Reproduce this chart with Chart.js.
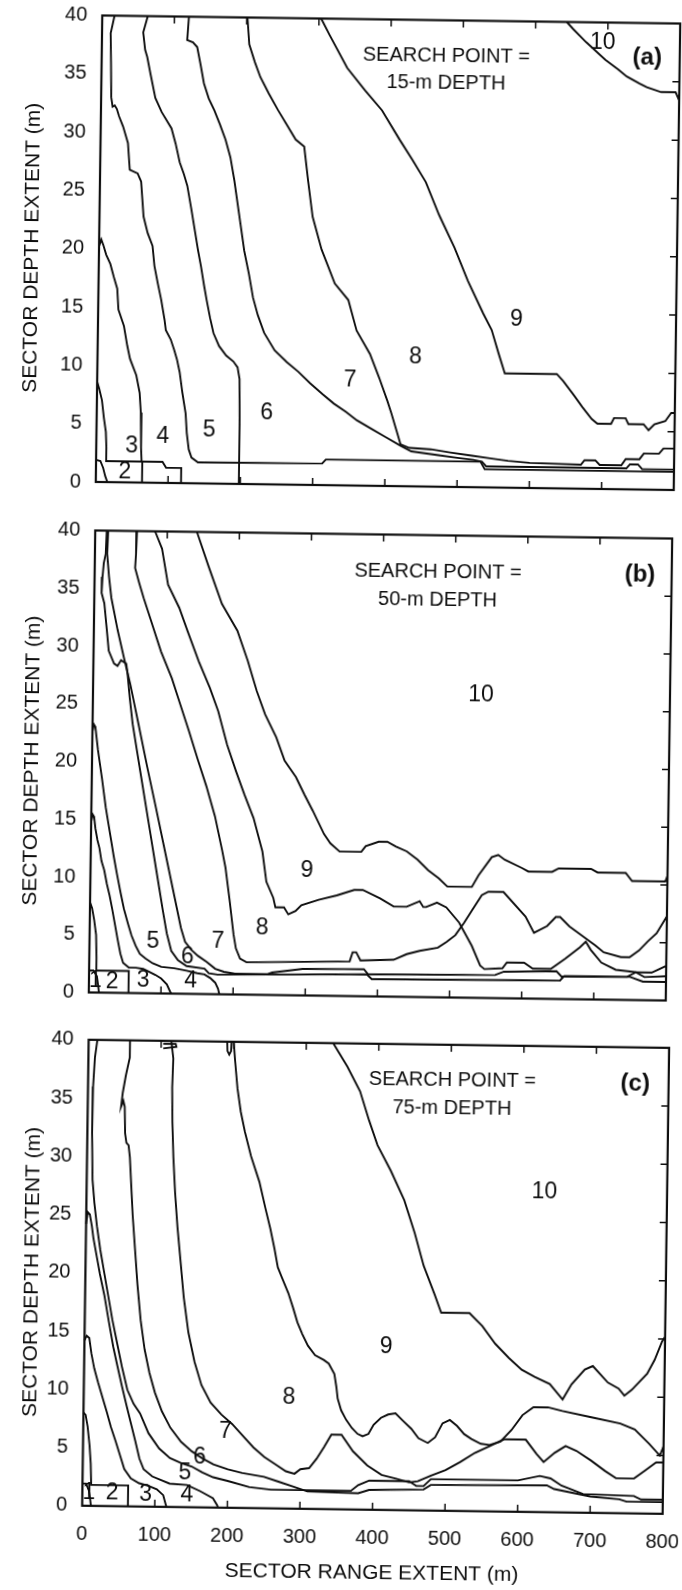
<!DOCTYPE html>
<html>
<head>
<meta charset="utf-8">
<script src="https://cdn.jsdelivr.net/npm/chart.js@4.4.1/dist/chart.umd.min.js"></script>
<style>
html,body{margin:0;padding:0;background:#ffffff;}
body{width:682px;height:1590px;position:relative;overflow:hidden;}
canvas{position:absolute;left:0;}
</style>
</head>
<body>
<canvas id="ca"></canvas>
<canvas id="cb"></canvas>
<canvas id="cc"></canvas>
<script>
// ---------------- DATA ----------------
const xTickValues = [0,100,200,300,400,500,600,700,800];
const yTickValues = [0,5,10,15,20,25,30,35,40];
const xTitle = 'SECTOR RANGE EXTENT (m)';
const yTitle = 'SECTOR DEPTH EXTENT (m)';
const regionNames = ['1','2','3','4','5','6','7','8','9','10'];

// panel (a) : search point 15-m depth, contour lines (range m, depth m)
const a1 = [[0,1.9],[6,1.8],[10,1.2],[13,0.5],[16,0]];
const a2 = [[0,8.6],[3,8.0],[7,7.0],[10,5.5],[13,4.3],[14,3.0],[14,1.8],[64,1.8],[64,0]];
const a3 = [[0,20.2],[3,20.8],[6,20.3],[10,19.5],[16,18.7],[21,17.6],[26,16.6],[28,14.8],[36,13.4],[41,11.7],[45,10.6],[54,9.2],[59,7.7],[61,6.0],[62,3.0],[63,1.8],[92,1.8],[97,1.3],[118,1.3],[118,0]];
const a4 = [[17,40],[12,38.5],[13,36],[14,33],[16,32.2],[19,32.3],[22,32.0],[25,31.4],[31,30.5],[38,29.1],[41,26.8],[52,26.5],[57,25.8],[59,24.3],[61,22.8],[67,21.4],[74,20.3],[77,18.6],[82,17.1],[87,15.7],[92,14.0],[94,13.1],[101,12.3],[106,11.4],[110,10.6],[114,9.5],[118,7.8],[123,6.0],[125,4.3],[128,2.9],[132,2.2],[141,1.8],[313,1.85],[318,2.2],[532,2.2],[538,1.55],[800,1.55]];
const a5 = [[63,40],[57,38.6],[60,37.1],[63,36.5],[68,35],[75,33],[84,31.8],[98,30.4],[104,29.1],[110,27.5],[116,26.5],[121,25.5],[127,23.5],[133,21.4],[137,20],[141.5,18.6],[146,17],[150,15.7],[155,14.2],[160,12.9],[168,11.8],[178,11],[188,10.5],[194,10],[197,9],[198,5],[198,0]];
const a6 = [[120,40],[118,38],[126,37.8],[132,37.4],[137,35.9],[142,34.3],[149,33],[157,32],[165,30.8],[173,29.5],[180,28],[186,26],[191,24],[196,22],[201,20],[208,18],[214,16],[221,14.5],[230,13],[245,11.5],[262,10.5],[278,9.7],[295,8.7],[312,7.8],[328,7],[345,6.3],[360,5.6],[380,4.9],[400,4.2],[420,3.5],[436,3.0],[474,2.7],[500,2.5],[522,2.35],[534,2.2],[540,1.8],[734,1.8],[739,2.15],[750,2.15],[756,1.75],[800,1.75]];
const a7 = [[201,40],[204,37.7],[212,36.2],[220,34.9],[232,33.5],[245,32.1],[258,30.8],[270,29.6],[282,29],[288,26.1],[295,23],[308,20.2],[327,17.3],[346,15.9],[358,13.3],[377,11.3],[390,9.3],[402,7.3],[408,6.2],[415,4.8],[421,3.6],[433,3.3],[463,3.2],[490,2.95],[520,2.7],[545,2.5],[570,2.3],[600,2.15],[671,2.06],[676,2.45],[691,2.45],[697,2.06],[727,2.06],[733,2.6],[752,2.6],[758,3.1],[779,3.1],[785,3.55],[800,3.55]];
const a8 = [[303,40],[315,38.6],[340,35.8],[365,33.9],[389,32.2],[414,29.7],[432,28],[451,26.1],[470,23.3],[492,20.5],[511,17.7],[533,14.9],[545,13.5],[555,11.5],[564,9.8],[636,9.8],[645,9.2],[660,8],[672,7],[685,6],[693,5.6],[712,5.6],[716,6.1],[732,6.1],[736,5.6],[757,5.6],[764,5.1],[772,5.6],[787,5.9],[795,6.6],[800,6.6]];
const a9 = [[643,40],[652,39.4],[670,38.3],[697,36.8],[715,36],[727,35.4],[745,34.8],[755,34.5],[775,34.1],[795,34.1],[800,33.4]];

// panel (b) : search point 50-m depth
const b1 = [[0,1.9],[6,1.9],[11,1.4],[13,0.5],[14,0]];
const b2 = [[0,7.8],[3,7.3],[6,6.3],[9,5.0],[10,3.0],[10,1.9],[55,1.9],[55,0]];
const b3 = [[0,14.8],[2,15.4],[4,15.2],[6,14.2],[9,13.2],[12,12.5],[15,11.4],[19,10.6],[23,9.4],[27,8.4],[31,7.2],[35,5.9],[39,4.6],[43,3.4],[47,2.6],[55,2.2],[65,2.2],[75,2.1],[85,1.8],[92,1.6],[100,1.3],[108,0.8],[114,0]];
const b4 = [[0,22.6],[2,23.2],[4,23],[6,22],[8,21],[11,19.8],[14,18.6],[17,17.3],[20,16],[24,14.6],[28,13.2],[32,11.8],[37,10.2],[42,8.7],[47,7.3],[53,6],[58,5],[64,4.1],[70,3.4],[78,3.0],[88,2.6],[100,2.3],[118,2.2],[135,2.0],[150,1.8],[160,1.7],[168,1.4],[175,1.0],[179,0.5],[181,0]];
const b5 = [[16,40],[15,38],[12.5,37.2],[11,36],[10,34.6],[14,33.7],[18,31.4],[21,29.6],[28.7,28.5],[33.5,28.3],[38.3,28.8],[45.6,28.5],[47.6,27.6],[51,25.6],[55.6,23.3],[62,21],[68.5,18.7],[75,16.4],[81.5,14.1],[88,11.8],[94.5,9.5],[101,7.2],[107,5.2],[113.5,3.7],[123,2.9],[135,2.4],[160,2.2],[166,1.8],[178,1.7],[385,1.9],[392,1.5],[653,1.6],[659,2.0],[750,2.0],[768,1.6],[800,1.6]];
const b6 = [[18,40],[17,38],[20,36],[23.6,34.2],[33,31.4],[42.3,29],[51.7,26.7],[64,23.2],[76.6,19.6],[89,16.2],[101.5,12.7],[114,9.2],[126.5,5.7],[132.5,4.5],[141.5,3.8],[150.6,3.3],[162.7,2.8],[174.8,2.2],[187,1.95],[202,1.8],[247.6,1.8],[254,1.95],[296,2.3],[381,2.35],[387,1.9],[563,2.0],[575,2.3],[648,2.4],[655,1.95],[746,2.0],[758,2.4],[770,2.0],[800,2.1]];
const b7 = [[58,40],[57,38],[56,36.8],[62,35.5],[68.5,34.2],[81,31.9],[93.5,29.6],[109,27.3],[121.5,25],[134,22.7],[146.5,20.3],[159,18],[171.5,15.4],[182,12.5],[187,11],[193.5,8.1],[199.5,5.2],[203,4],[209,3.1],[218,2.8],[361,3.0],[365,3.8],[370,3.8],[376,3.1],[422,3.2],[440,3.7],[458,4.0],[483,4.3],[495,4.8],[507,5.4],[519,6.5],[531,7.7],[543,8.9],[552,9.2],[573,9.2],[604,7.1],[616,5.7],[634,6.3],[646,7.1],[652,7.1],[665,6.3],[683,5.5],[701,4.7],[713,4.1],[737,3.7],[749,3.7],[762,4.3],[774,5.1],[786,5.8],[800,7.3]];
const b8 = [[83,40],[93,38.5],[102,35.4],[118,33.4],[130,31.4],[146,28.8],[162,26.5],[174,24.5],[187,21.6],[200,19.3],[212,17.3],[225,15.3],[238,12.4],[244,9.8],[254,8.4],[257,7.6],[269,7.6],[275,7.0],[285,7.3],[293,7.8],[317,8.3],[342,8.7],[366,9.2],[378,9.2],[402,8.5],[421,7.8],[439,7.8],[457,8.3],[462,7.8],[466,7.8],[481,8.2],[494,7.8],[512,6.5],[530,4.5],[542,2.8],[548,2.5],[573,2.6],[579,3.1],[603,3.1],[615,2.6],[640,2.6],[660,3.5],[680,4.5],[688,5.0],[695,4.3],[710,3.2],[730,2.6],[760,2.4],[780,2.4],[790,2.7],[800,3.0]];
const b9 = [[141,40],[158,37],[177,33.8],[199,31.5],[214,28.9],[227,26.3],[239,24.3],[255,22.3],[267,20.3],[283,18.9],[295,17.4],[307,16],[323,14],[332,13.2],[345,12.5],[375,12.5],[381,13],[399,13.4],[411,13.4],[423,13],[438,12.6],[453,11.9],[468,11],[483,10.3],[495,9.6],[529,9.6],[538,10.6],[556,12.2],[565,12.4],[574,12],[598,11.3],[607,11],[640,11],[649,11.3],[694,11.3],[703,11],[742,11],[751,10.3],[797,10.3],[800,10.8]];

// panel (c) : search point 75-m depth
const c1 = [[0,1.9],[5,1.9],[9,1.3],[11,0.5],[12,0]];
const c2 = [[0,8],[3,7.8],[6,6.8],[9,5.2],[11,3.6],[12,1.8],[63,1.8],[63,0]];
const c3 = [[0,14.2],[3,14.6],[6.6,14.4],[9.7,13.1],[14,11.8],[19.5,10.6],[26,9.3],[32,8.1],[38,6.8],[44.7,5.6],[51,4.4],[57.3,3.2],[66.5,2.4],[78,2.0],[90.5,1.8],[102.5,1.5],[111.5,1.0],[116,0]];
const c4 = [[0,24.2],[2,25.2],[5,25],[8,24],[10.3,23],[15,21.5],[20,19.9],[26.5,18.1],[33,15.9],[39.7,13.7],[46,12],[52.5,10.3],[59,8.7],[65.3,7.2],[72,5.6],[78,4.1],[84,3.2],[96,2.6],[120,2.0],[144,1.9],[162,1.4],[180,0.8],[186,0.2],[187,0]];
const c5 = [[12,40],[9,38.5],[7,36],[6.5,32],[8,28],[11,26],[15,24],[20,22],[26,20],[32,18],[38,16],[45,14],[52,12],[60,10],[69,8.8],[78,8],[90,6.3],[105,5],[120,4.2],[135,3.8],[150,3.5],[165,3.0],[180,2.6],[200,2.3],[230,1.8],[260,1.6],[370,1.6],[380,2.1],[395,2.5],[450,2.5],[460,2.1],[470,2.1],[480,2.7],[600,2.7],[630,3.1],[645,2.9],[660,2.3],[690,1.6],[760,1.5],[770,1.2],[800,1.2]];
const c6 = [[57,40],[57,38.5],[52,37],[48,35.5],[46,34.3],[49,34.8],[51,34.3],[52,32],[54,31.2],[57,31],[59,30],[61,28],[64,25],[68,22],[72,19],[77,16],[83,13.5],[90,11.5],[98,9.8],[108,8.2],[120,6.8],[135,5.6],[150,4.8],[165,4.2],[180,3.7],[200,3.3],[220,3.0],[250,2.7],[270,2.3],[290,1.9],[310,1.5],[380,1.4],[395,1.7],[470,1.8],[480,2.2],[640,2.3],[650,2.0],[700,1.4],[740,1.2],[750,1.0],[800,1.0]];
const c7 = [[114,40],[117,38.5],[116,36],[117,33],[119,30],[122,27],[126,24],[131,21],[136,18],[143,15],[152,12.5],[162,10.5],[175,9],[190,8],[205,7.2],[220,6.2],[235,5.2],[250,4.4],[265,3.8],[280,3.2],[292,3.0],[300,3.4],[312,3.5],[322,4.3],[332,5.3],[342,6.4],[356,6.4],[372,5.0],[392,3.8],[412,3.0],[432,2.7],[450,2.4],[462,2.5],[480,3.0],[500,3.5],[520,4.2],[540,5.0],[560,5.6],[580,6.2],[610,6.2],[625,5.0],[635,4.3],[650,5.1],[665,5.7],[680,5.3],[700,4.5],[720,3.6],[735,3.0],[760,3.0],[775,3.7],[790,4.4],[800,4.4]];
const c7top = [[103,39.75],[120,39.75],[121,39.5],[103,39.35]];
const c8 = [[200,40],[202,38.5],[206,36],[211,34],[217,32.3],[226,30.2],[238,28],[247,25.7],[254,24],[260,22.3],[265,20.7],[271,19.8],[280,18.5],[287,17.2],[293,16],[300,15],[308,14],[318,13.2],[330,12.8],[337,12.5],[345,11.6],[348,10.5],[350,9.5],[355,8.5],[362,7.7],[370,7],[378,6.5],[385,6.3],[393,6.5],[400,7.3],[410,7.9],[420,8.2],[430,8.3],[440,7.7],[452,7],[462,6.2],[475,5.8],[485,6.3],[495,7.5],[505,7.8],[515,7.3],[525,6.6],[535,6.2],[548,5.8],[560,5.7],[575,6.0],[590,7],[605,8.3],[620,9.0],[640,9.0],[660,8.7],[700,8.2],[740,7.7],[760,7.2],[780,6.0],[795,5.0],[800,5.8]];
const c8loop = [[191,40],[191.5,39.2],[194,38.9],[196.5,39.2],[197,40]];
const c9 = [[337,40],[357,38],[375,35.9],[388,33.4],[400,31.3],[419,29.1],[438,26.6],[453,23.8],[466,21],[482,18.5],[491,17],[530,17],[548,15.9],[566,14.4],[585,13.2],[603,12.2],[621,11.6],[642,11],[660,9.7],[672,11],[690,12.3],[701,12.6],[722,11.2],[737,10.7],[745,10.1],[755,10.6],[776,12],[786,13.2],[796,14.8],[800,15.2]];

// ---------------- LAYOUT ----------------
const FONT = "'Liberation Sans', Arial, Helvetica, sans-serif";
const INK = '#0e0e0e';

const panels = [
  {id:'ca', top:0, height:520, left:99, right:677, areaTop:19.5, areaBottom:486, showX:false,
   lines:[a1,a2,a3,a4,a5,a6,a7,a8,a9],
   search:['SEARCH POINT =','15-m DEPTH'], searchAt:[477,36.9,34.6], tag:'(a)', tagAt:[755,37.0],
   regionAt:{'2':[40,0.9],'3':[49,3.1],'4':[92,4.0],'5':[156,4.6],'6':[235,6.1],'7':[350,9.0],'8':[440,11.1],'9':[579,14.4],'10':[693,38.3]}},
  {id:'cb', top:520, height:500, left:92, right:669, areaTop:14.5, areaBottom:476.5, showX:false,
   lines:[b1,b2,b3,b4,b5,b6,b7,b8,b9],
   search:['SEARCH POINT =','50-m DEPTH'], searchAt:[476,36.8,34.4], tag:'(b)', tagAt:[756,36.8],
   regionAt:{'1':[9,1.0],'2':[32,0.9],'3':[75,1.1],'4':[141,1.1],'5':[88,4.5],'6':[136,3.2],'7':[178,4.6],'8':[239,5.8],'9':[300,10.8],'10':[538,26.2]}},
  {id:'cc', top:1020, height:570, left:85.4, right:665.9, areaTop:23.8, areaBottom:489.8, showX:true,
   lines:[c1,c2,c3,c4,c5,c6,c7,c7top,c8,c8loop,c9],
   search:['SEARCH POINT =','75-m DEPTH'], searchAt:[502,36.9,34.5], tag:'(c)', tagAt:[754,36.9],
   regionAt:{'1':[9,1.1],'2':[41,1.1],'3':[87,1.0],'4':[144,1.0],'5':[141,2.9],'6':[161,4.3],'7':[196,6.5],'8':[283,9.5],'9':[416,14.0],'10':[631,27.5]}}
];

const framePlugin = {
  id:'frameTicks',
  afterDatasetsDraw(chart){
    const {ctx, chartArea, scales} = chart;
    const {left,right,top,bottom} = chartArea;
    ctx.save();
    ctx.strokeStyle = INK;
    ctx.lineWidth = 2.2;
    ctx.strokeRect(left, top, right-left, bottom-top);
    ctx.lineWidth = 1.5;
    ctx.beginPath();
    xTickValues.forEach(v=>{
      if (v===xTickValues[0] || v===xTickValues[xTickValues.length-1]) return;
      const px = scales.x.getPixelForValue(v);
      ctx.moveTo(px,bottom); ctx.lineTo(px,bottom-7);
      ctx.moveTo(px,top); ctx.lineTo(px,top+7);
    });
    yTickValues.forEach(v=>{
      if (v===yTickValues[0] || v===yTickValues[yTickValues.length-1]) return;
      const py = scales.y.getPixelForValue(v);
      ctx.moveTo(right,py); ctx.lineTo(right-7,py);
    });
    ctx.stroke();
    ctx.restore();
  }
};

const textPlugin = {
  id:'panelText',
  afterDraw(chart){
    const p = chart.options.plugins.panelText;
    const {ctx, scales} = chart;
    ctx.save();
    ctx.fillStyle = INK;
    ctx.textAlign = 'center';
    ctx.textBaseline = 'middle';
    ctx.font = "23px " + FONT;
    regionNames.forEach(n=>{
      const at = p.regionAt[n];
      if (!at) return;
      ctx.fillText(n, scales.x.getPixelForValue(at[0]), scales.y.getPixelForValue(at[1]));
    });
    ctx.font = "20px " + FONT;
    const sx = scales.x.getPixelForValue(p.searchAt[0]);
    ctx.fillText(p.search[0], sx, scales.y.getPixelForValue(p.searchAt[1]));
    ctx.fillText(p.search[1], sx, scales.y.getPixelForValue(p.searchAt[2]));
    ctx.font = "bold 24px " + FONT;
    ctx.fillText(p.tag, scales.x.getPixelForValue(p.tagAt[0]), scales.y.getPixelForValue(p.tagAt[1]));
    ctx.restore();
  }
};

function build(p){
  const canvas = document.getElementById(p.id);
  canvas.width = 682; canvas.height = p.height;
  canvas.style.width = '682px'; canvas.style.height = p.height + 'px';
  canvas.style.top = p.top + 'px';
  const cx = (p.left + p.right)/2, cy = (p.areaTop + p.areaBottom)/2;
  canvas.style.transformOrigin = cx + 'px ' + cy + 'px';
  canvas.style.transform = 'rotate(0.8deg)';
  const xAxisH = p.height - p.areaBottom;
  new Chart(canvas, {
    type:'scatter',
    data:{datasets:p.lines.map(l=>({
      data:l.map(pt=>({x:pt[0], y:pt[1]})),
      showLine:true, borderColor:INK, backgroundColor:INK, borderWidth:1.9,
      pointRadius:0, pointHoverRadius:0, fill:false, tension:0, clip:2
    }))},
    options:{
      responsive:false, animation:false, devicePixelRatio:1, events:[],
      layout:{padding:{left:0, right:682-p.right, top:p.areaTop, bottom:0}},
      plugins:{legend:{display:false}, tooltip:{enabled:false}, panelText:p},
      scales:{
        x:{type:'linear', min:0, max:800, position:'bottom',
           ticks:{display:p.showX, stepSize:100, color:INK, font:{family:FONT, size:20}, padding:17, maxRotation:0, autoSkip:false},
           grid:{display:false, drawTicks:false}, border:{display:false},
           title:{display:p.showX, text:xTitle, color:INK, font:{family:FONT, size:21}, padding:{top:0, bottom:4}},
           afterFit(s){ s.height = xAxisH; s.paddingLeft = 0; s.paddingRight = 0; }},
        y:{type:'linear', min:0, max:40, position:'left',
           ticks:{stepSize:5, color:INK, font:{family:FONT, size:20}, padding:15},
           grid:{display:false, drawTicks:false}, border:{display:false},
           title:{display:true, text:yTitle, color:INK, font:{family:FONT, size:21}, padding:{top:20, bottom:0}},
           afterFit(s){ s.width = p.left; s.paddingTop = 0; s.paddingBottom = 0; }}
      }
    },
    plugins:[framePlugin, textPlugin]
  });
}
panels.forEach(build);
</script>
</body>
</html>
